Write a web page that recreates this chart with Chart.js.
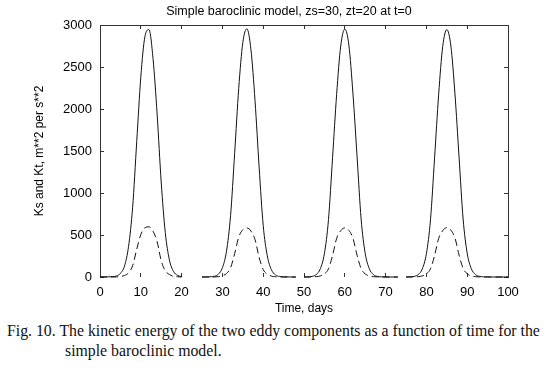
<!DOCTYPE html>
<html>
<head>
<meta charset="utf-8">
<script src="https://cdn.jsdelivr.net/npm/chart.js@4.4.1/dist/chart.umd.min.js"></script>
<style>
  body { margin: 0; background: #fff; }
  #wrap { position: relative; width: 546px; height: 374px; }
  .cap { position: absolute; font-family: "Liberation Serif", "DejaVu Serif", serif; font-size: 15.8px; line-height: 18px; color: #111; white-space: nowrap; }
</style>
</head>
<body>
<div id="wrap">
  <canvas id="chart" width="546" height="320"></canvas>
  <div class="cap" style="left:7px; top:322px">Fig. 10. The kinetic energy of the two eddy components as a function of time for the</div>
  <div class="cap" style="left:65px; top:342px">simple baroclinic model.</div>
</div>
<script>
// time axis, days
const days = [
  0, 1, 2, 3, 4, 5, 6, 7, 8, 9, 10, 11, 12, 13, 14, 15, 16, 17, 18, 19, 20,
  21, 22, 23, 24, 25, 26, 27, 28, 29, 30, 31, 32, 33, 34, 35, 36, 37, 38, 39, 40,
  41, 42, 43, 44, 45, 46, 47, 48, 49, 50, 51, 52, 53, 54, 55, 56, 57, 58, 59, 60,
  61, 62, 63, 64, 65, 66, 67, 68, 69, 70, 71, 72, 73, 74, 75, 76, 77, 78, 79, 80,
  81, 82, 83, 84, 85, 86, 87, 88, 89, 90, 91, 92, 93, 94, 95, 96, 97, 98, 99, 100
];

// Ks (solid), null = break between runs
const ks = [
  1, 1, 2, 4, 11, 43, 130, 365, 830, 1610, 2380, 2860, 2945, 2600, 1940, 1130, 530, 205, 68, 19, 5,
  null, null, null, null,
  0, 1, 3, 8, 33, 110, 306, 730, 1470, 2245, 2790, 2955, 2705, 2097, 1310, 615, 253, 88, 25, 6, 2, 1, 0, 0,
  null,
  0, 1, 7, 29, 98, 279, 683, 1420, 2175, 2750, 2950, 2760, 2180, 1440, 690, 282, 99, 29, 7, 2, 1, 0, 0, 0,
  null,
  0, 2, 7, 29, 97, 278, 680, 1415, 2170, 2745, 2945, 2750, 2180, 1430, 690, 283, 100, 30, 8, 2, 1, 0, 0, 0, 0, 0
];

// Kt (dashed)
const kt = [
  0, 0, 0, 0, 1, 5, 18, 50, 135, 330, 505, 585, 597, 545, 420, 195, 75, 30, 8, 3, 1,
  null, null, null, null,
  0, 0, 0, 0, 4, 15, 41, 109, 278, 474, 562, 584, 547, 445, 234, 88, 34, 11, 3, 1, 0, 0, 0, 0,
  null,
  0, 0, 1, 4, 13, 36, 98, 256, 459, 552, 585, 555, 462, 260, 100, 37, 13, 4, 1, 0, 0, 0, 0, 0,
  null,
  0, 0, 1, 4, 13, 36, 98, 255, 458, 552, 588, 558, 465, 262, 102, 38, 13, 4, 1, 0, 0, 0, 0, 0, 0, 0
];

Chart.defaults.font.family = "'Liberation Sans', Arial, sans-serif";
Chart.defaults.color = "#000";

const frame = "#333";

new Chart(document.getElementById("chart"), {
    type: "line",
    data: {
        labels: days,
        datasets: [
            {
                label: "Ks",
                data: ks,
                borderColor: "#111",
                borderWidth: 1,
                pointRadius: 0,
                cubicInterpolationMode: "monotone",
                spanGaps: false,
                clip: false
            },
            {
                label: "Kt",
                data: kt,
                borderColor: "#111",
                borderWidth: 1,
                borderDash: [7, 4],
                pointRadius: 0,
                cubicInterpolationMode: "monotone",
                spanGaps: false,
                clip: false
            }
        ]
    },
    options: {
        responsive: false,
        animation: false,
        layout: { padding: { left: 32, right: 0, top: 0, bottom: 0 } },
        scales: {
            x: {
                type: "linear",
                position: "bottom",
                min: 0,
                max: 100,
                ticks: { stepSize: 10, font: { size: 13 }, padding: 12, maxRotation: 0, callback: v => String(v) },
                grid: { drawOnChartArea: false, tickLength: -4, color: frame },
                border: { display: false },
                title: { display: true, text: "Time, days", font: { size: 12 }, padding: { top: 0, bottom: 4 } },
                afterFit: s => { s.height = 43; }
            },
            x2: {
                type: "linear",
                position: "top",
                min: 0,
                max: 100,
                ticks: { display: false, stepSize: 10 },
                grid: { drawOnChartArea: false, tickLength: -4, color: frame },
                border: { color: frame },
                afterFit: s => { s.height = 0; }
            },
            y: {
                min: 0,
                max: 3000,
                ticks: { stepSize: 500, font: { size: 13 }, padding: 12, callback: v => String(v) },
                grid: { drawOnChartArea: false, tickLength: -4, color: frame },
                border: { color: frame },
                title: { display: true, text: "Ks and Kt, m**2 per s**2", font: { size: 12 }, padding: 0 },
                afterFit: s => { s.width = 68; }
            },
            y2: {
                position: "right",
                min: 0,
                max: 3000,
                ticks: { display: false, stepSize: 500 },
                grid: { drawOnChartArea: false, tickLength: -4, color: frame },
                border: { color: frame },
                afterFit: s => { s.width = 38; }
            }
        },
        plugins: {
            legend: { display: false },
            tooltip: { enabled: false },
            title: {
                display: true,
                text: "Simple baroclinic model, zs=30, zt=20 at t=0",
                font: { size: 12.5, weight: "normal" },
                color: "#000",
                padding: { top: 4, bottom: 6 }
            }
        }
    }
});
</script>
</body>
</html>
